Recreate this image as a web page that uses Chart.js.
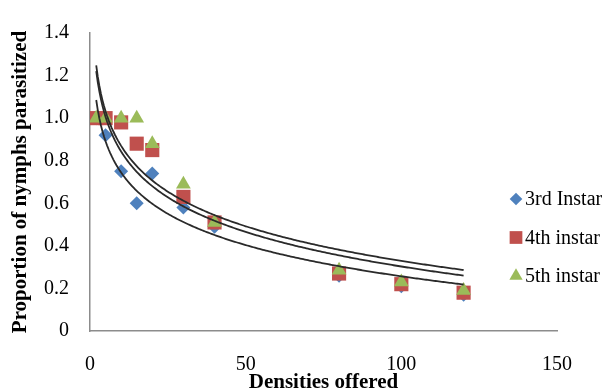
<!DOCTYPE html>
<html>
<head>
<meta charset="utf-8">
<script src="https://cdn.jsdelivr.net/npm/chart.js@4.4.1/dist/chart.umd.min.js"></script>
<style>
  html, body { margin: 0; padding: 0; background: #fff; }
</style>
</head>
<body>
<canvas id="chart" width="613" height="391"></canvas>
<script>
// densities offered (x) and proportion parasitized per instar (y)
const densities = [2, 5, 10, 15, 20, 30, 40, 80, 100, 120];
const instar3 = [1.0, 0.92, 0.75, 0.60, 0.74, 0.58, 0.49, 0.26, 0.21, 0.17];
const instar4 = [1.0, 1.0, 0.98, 0.88, 0.85, 0.63, 0.51, 0.27, 0.22, 0.18];
const instar5 = [1.0, 1.0, 1.0, 1.0, 0.88, 0.69, 0.51, 0.285, 0.23, 0.19];
const seriesNames = ['3rd Instar', '4th instar', '5th instar'];
const seriesColors = ['#4F81BD', '#C0504D', '#9BBB59'];
const seriesShapes = ['rectRot', 'rect', 'triangle'];
const xTicks = [0, 50, 100, 150];
const yTicks = [0, 0.2, 0.4, 0.6, 0.8, 1, 1.2, 1.4];

const allSeries = [instar3, instar4, instar5];
const markerRadius = [7, 10, 8.5];

// logarithmic least-squares trendline, same as the spreadsheet's
function logFit(xs, ys) {
  const lx = xs.map(Math.log);
  const n = xs.length;
  const mx = lx.reduce((a, b) => a + b, 0) / n;
  const my = ys.reduce((a, b) => a + b, 0) / n;
  let sxy = 0, sxx = 0;
  lx.forEach((v, i) => { sxy += (v - mx) * (ys[i] - my); sxx += (v - mx) * (v - mx); });
  const b = sxy / sxx;
  return { a: my - b * mx, b: b };
}

function trendPoints(ys) {
  const fit = logFit(densities, ys);
  const first = densities[0];
  const last = densities[densities.length - 1];
  const pts = [];
  for (let x = first; x <= last; x += 0.5) {
    pts.push({ x: x, y: fit.a + fit.b * Math.log(x) });
  }
  return pts;
}

const scatterSets = allSeries.map((ys, i) => ({
  label: seriesNames[i],
  data: densities.map((x, j) => ({ x: x, y: ys[j] })),
  pointStyle: seriesShapes[i],
  pointRadius: markerRadius[i],
  pointHoverRadius: markerRadius[i],
  backgroundColor: seriesColors[i],
  borderColor: seriesColors[i],
  pointBorderWidth: 0,
  order: 3 - i
}));

const trendSets = allSeries.map((ys) => ({
  label: '',
  data: trendPoints(ys),
  showLine: true,
  pointRadius: 0,
  borderColor: '#2a2a2a',
  borderWidth: 1.8,
  tension: 0,
  order: 0
}));

const sideLegend = {
  id: 'sideLegend',
  afterDraw(chart) {
    const ctx = chart.ctx;
    ctx.save();
    ctx.font = '20px "Liberation Serif"';
    ctx.textBaseline = 'middle';
    ctx.textAlign = 'left';
    seriesNames.forEach((name, i) => {
      const y = 199 + i * 38.5;
      ctx.fillStyle = seriesColors[i];
      Chart.helpers.drawPoint(ctx, {
        pointStyle: seriesShapes[i],
        radius: markerRadius[i] * 0.9,
        rotation: 0,
        borderWidth: 0
      }, 516, y);
      ctx.fillStyle = '#000';
      ctx.fillText(name, 525, y + 1);
    });
    ctx.restore();
  }
};

Chart.defaults.font.family = '"Liberation Serif", "Times New Roman", serif';
Chart.defaults.color = '#000';

new Chart(document.getElementById('chart'), {
  type: 'scatter',
  data: { datasets: scatterSets.concat(trendSets) },
  options: {
    responsive: false,
    animation: false,
    devicePixelRatio: 1,
    layout: { padding: { top: 25, right: 56, bottom: 0, left: 0 } },
    plugins: {
      legend: { display: false },
      tooltip: { enabled: false }
    },
    scales: {
      x: {
        type: 'linear',
        min: xTicks[0],
        max: xTicks[xTicks.length - 1],
        afterBuildTicks: (scale) => { scale.ticks = xTicks.map(v => ({ value: v })); },
        afterFit: (scale) => { scale.height = 60; },
        grid: { display: false, drawTicks: false },
        border: { display: true, color: '#8c8c8c', width: 1.5 },
        ticks: { font: { size: 20 }, padding: 22, maxRotation: 0 },
        title: {
          display: true,
          text: 'Densities offered',
          font: { size: 21, weight: 'bold', lineHeight: 1.2 },
          padding: { top: 0, bottom: -4 }
        }
      },
      y: {
        type: 'linear',
        min: yTicks[0],
        max: yTicks[yTicks.length - 1],
        afterBuildTicks: (scale) => { scale.ticks = yTicks.map(v => ({ value: v })); },
        afterFit: (scale) => { scale.width = 90; },
        grid: { display: false, drawTicks: false },
        border: { display: true, color: '#8c8c8c', width: 1.5 },
        ticks: { font: { size: 20 }, padding: 21 },
        title: {
          display: true,
          text: 'Proportion of nymphs parasitized',
          font: { size: 21, weight: 'bold', lineHeight: 1.2 },
          padding: { top: 8, bottom: 0 }
        }
      }
    }
  },
  plugins: [sideLegend]
});
</script>
</body>
</html>
